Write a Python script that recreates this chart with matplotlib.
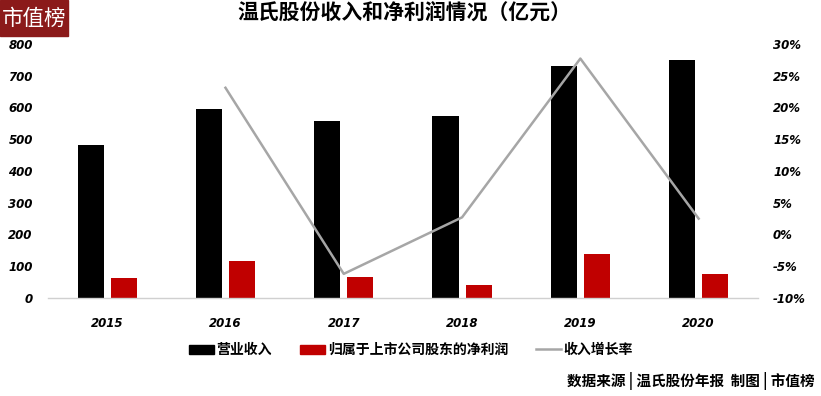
import numpy as np
import matplotlib
matplotlib.use("Agg")
import matplotlib.pyplot as plt
from matplotlib.patches import Rectangle
from matplotlib.lines import Line2D

plt.rcParams['font.family'] = ['Noto Sans CJK SC', 'DejaVu Sans']

years = ["2015", "2016", "2017", "2018", "2019", "2020"]
revenue = [482.4, 593.6, 556.6, 572.4, 731.2, 749.4]
net_profit = [62.5, 116.0, 66.0, 39.6, 138.5, 74.3]
growth = [np.nan, 0.231, -0.062, 0.027, 0.277, 0.025]
left_ticks = [0, 100, 200, 300, 400, 500, 600, 700, 800]
right_ticks = [-0.10, -0.05, 0, 0.05, 0.10, 0.15, 0.20, 0.25, 0.30]

fig = plt.figure(figsize=(8.21, 3.96), dpi=100)
ax = fig.add_axes([0.0585, 0.2475, 0.8645, 0.6415])
ax2 = ax.twinx()

x = np.arange(len(years))
w = 0.22
ax.bar(x - 0.14, revenue, w, color="black", zorder=2)
ax.bar(x + 0.14, net_profit, w, color="#C00000", zorder=2)
ax2.plot(x, growth, color="#A6A6A6", lw=1.8, zorder=3)

ax.set_xlim(-0.5, len(years) - 0.5)
ax.set_ylim(0, 800)
ax2.set_ylim(-0.10, 0.30)

num_font = dict(family="DejaVu Sans", fontsize=8.5, fontweight="bold", fontstyle="italic")
ax.set_yticks(left_ticks)
ax.set_yticklabels([str(t) for t in left_ticks], **num_font)
ax2.set_yticks(right_ticks)
ax2.set_yticklabels(["%d%%" % round(t * 100) for t in right_ticks], **num_font)
ax.set_xticks(x)
ax.set_xticklabels(years, **num_font)

for a in (ax, ax2):
    for s in a.spines.values():
        s.set_visible(False)
    a.tick_params(length=0)
ax.spines["bottom"].set_visible(True)
ax.spines["bottom"].set_color("#D0D0D0")
ax.spines["bottom"].set_linewidth(1.0)
ax.tick_params(axis="y", pad=11)
ax.tick_params(axis="x", pad=14)
ax2.tick_params(axis="y", pad=11)
ax2.set_zorder(ax.get_zorder() + 1)
ax2.patch.set_visible(False)

# logo
fig.patches.append(Rectangle((0, 1 - 36 / 396), 68 / 821, 36 / 396, transform=fig.transFigure,
                             color="#8B1A1A", zorder=5))
fig.text(34 / 821, 1 - 19 / 396, "市值榜", color="white", fontsize=15.5,
         ha="center", va="center", zorder=6)

fig.text(404 / 821, 1 - 12 / 396, "温氏股份收入和净利润情况（亿元）", fontsize=15,
         fontweight="bold", ha="center", va="center")

# legend
handles = [Rectangle((0, 0), 1, 1, color="black"),
           Rectangle((0, 0), 1, 1, color="#C00000"),
           Line2D([0], [0], color="#A6A6A6", lw=1.8)]
labels = ["营业收入", "归属于上市公司股东的净利润", "收入增长率"]
fig.legend(handles, labels, loc="center", bbox_to_anchor=(411 / 821, 1 - 350 / 396),
           ncol=3, frameon=False, handlelength=1.8, handleheight=0.6,
           columnspacing=2.0, handletextpad=0.2, prop={"weight": "bold", "size": 10})

fig.text(815 / 821, 1 - 381 / 396, "数据来源 | 温氏股份年报  制图 | 市值榜", fontsize=10.5,
         fontweight="bold", ha="right", va="center")

fig.savefig("out.png", dpi=100)
